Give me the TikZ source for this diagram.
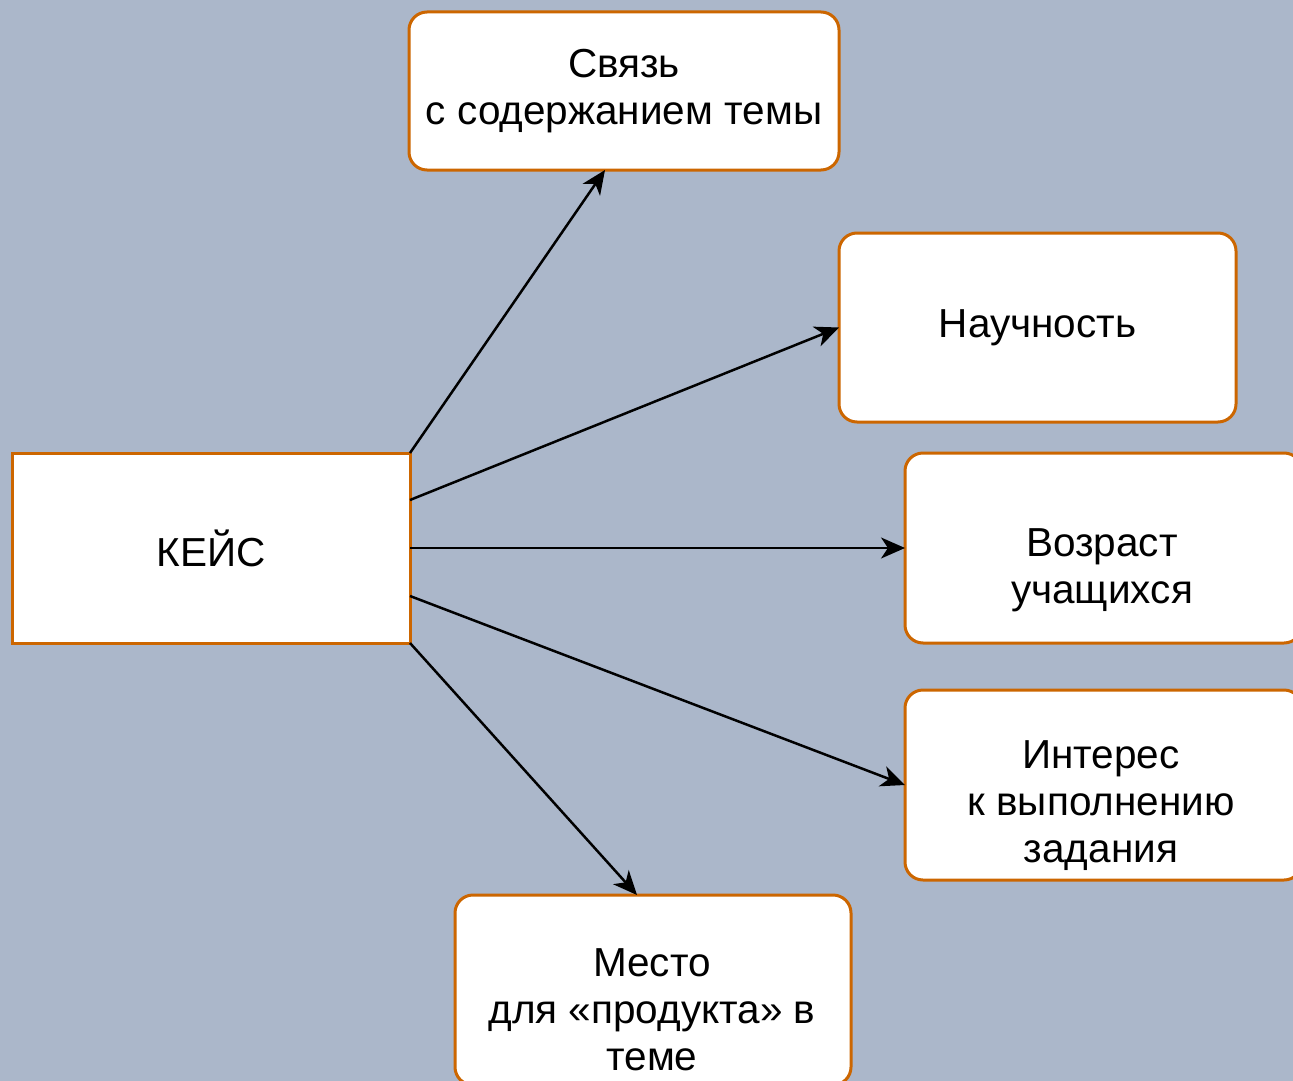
\documentclass[tikz,border=0pt]{standalone}
\usepackage{fontspec}
\setmainfont{Liberation Sans}
\usetikzlibrary{arrows.meta}
\definecolor{bgblue}{RGB}{171,183,202}
\definecolor{boxorange}{RGB}{204,102,0}

\begin{document}
\begin{tikzpicture}[x=1pt,y=-1pt,
  every node/.style={inner sep=0pt,outer sep=0pt,align=center,font=\fontsize{40.5}{47}\selectfont},
  box/.style={draw=boxorange,line width=3pt,fill=white,rounded corners=18pt,minimum width=397pt,minimum height=190pt},
  sqbox/.style={draw=boxorange,line width=3pt,fill=white,minimum width=398pt,minimum height=190pt},
  link/.style={line width=2.5pt,-{Stealth[length=24pt,width=21pt,inset=7pt]}}]
\clip (0,0) rectangle (1293,1081);
\fill[bgblue] (0,0) rectangle (1293,1081);
% boxes
\node[sqbox] (keys) at (211,548) {КЕЙС};
\node[box,minimum width=430pt,minimum height=158pt] (svyaz) at (624,91) {Связь\\с содержанием темы};
\node[box,minimum height=189pt] (nauch) at (1037.5,327.5) {Научность};
\node[box] (vozrast) at (1103.5,548) {};
\node (vozrast-txt) at (1102,570) {Возраст\\учащихся};
\node[box] (interes) at (1103.5,785) {};
\node (interes-txt) at (1101,806) {Интерес\\к выполнению\\задания};
\node[box,minimum width=396pt] (mesto) at (653,990) {};
\node (mesto-txt) at (652,1010) {Место\\для «продукта» в\\теме};
% arrows
\draw[link] (keys.north east) -- ([xshift=-19pt]svyaz.south);
\draw[link] ([yshift=48pt]keys.east) -- (nauch.west);
\draw[link] (keys.east) -- (vozrast.west);
\draw[link] ([yshift=-48pt]keys.east) -- (interes.west);
\draw[link] (keys.south east) -- ([xshift=-16pt]mesto.north);
\end{tikzpicture}
\end{document}
